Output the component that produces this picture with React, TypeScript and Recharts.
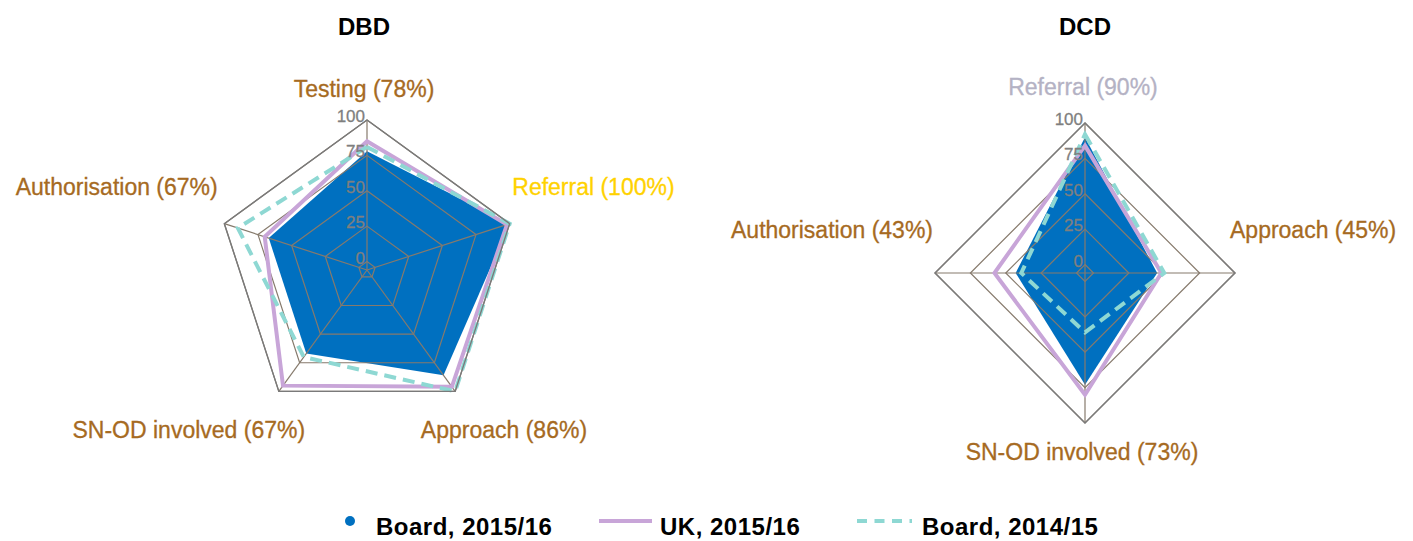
import React from "react";
import { RadarChart, Radar, PolarGrid, PolarAngleAxis, PolarRadiusAxis } from "recharts";

// DBD (pentagon) chart
const dbdAxes = ["Testing (78%)", "Referral (100%)", "Approach (86%)", "SN-OD involved (67%)", "Authorisation (67%)"];
const dbdBoard1516 = [78, 100, 86, 67, 67];
const dbdUk1516 = [85, 98, 96, 95, 70];
const dbdBoard1415 = [81, 100, 100, 70, 90];

// DCD (diamond) chart
const dcdAxes = ["Referral (90%)", "Approach (45%)", "SN-OD involved (73%)", "Authorisation (43%)"];
const dcdBoard1516 = [90, 45, 73, 43];
const dcdUk1516 = [84, 48, 80, 58];
const dcdBoard1415 = [92, 50, 36, 39];

const radiusTicks = [0, 25, 50, 75, 100];
const legendNames = ["Board, 2015/16", "UK, 2015/16", "Board, 2014/15"];

const FONT = "'Liberation Sans', Arial, sans-serif";
const BROWN = "#a66a22";
const BLUE = "#0070c0";
const PURPLE = "#c8a5d8";
const TEAL = "#8ed8d3";
const DOMAIN: [number, number] = [-6, 100];

const build = (axes: string[], a: number[], b: number[], c: number[]) =>
    axes.map((axis, i) => ({ axis, board1516: a[i], uk1516: b[i], board1415: c[i] }));

const dbdData = build(dbdAxes, dbdBoard1516, dbdUk1516, dbdBoard1415);
const dcdData = build(dcdAxes, dcdBoard1516, dcdUk1516, dcdBoard1415);

type Off = { dx: number; dy: number; anchor: "start" | "middle" | "end" };

const dbdLabelPos: Off[] = [
    { dx: -3, dy: -15, anchor: "middle" },
    { dx: -5, dy: -26, anchor: "start" },
    { dx: -39, dy: 40, anchor: "start" },
    { dx: 31, dy: 40, anchor: "end" },
    { dx: 1, dy: -26, anchor: "end" },
];
const dbdLabelColors = [BROWN, "#ffd200", BROWN, BROWN, BROWN];

const dcdLabelPos: Off[] = [
    { dx: -2, dy: -20, anchor: "middle" },
    { dx: -13, dy: -35, anchor: "start" },
    { dx: -3, dy: 29, anchor: "middle" },
    { dx: 6, dy: -35, anchor: "end" },
];
const dcdLabelColors = ["#b4b2c4", BROWN, BROWN, BROWN];

const angleTick = (pos: Off[], colors: string[]) => (props: any) => {
    const { x, y, payload, index } = props;
    const o = pos[index] || { dx: 0, dy: 0, anchor: "middle" };
    return (
        <text x={x + o.dx} y={y + o.dy} textAnchor={o.anchor} fill={colors[index]} fontSize={23} fontFamily={FONT}
            stroke={colors[index]} strokeWidth={0.3}>
            {payload.value}
        </text>
    );
};

const radiusTick = (props: any) => {
    const { x, y, payload } = props;
    return (
        <text x={x - 2} y={y + 2} textAnchor="end" fill="#7f7f7f" fontSize={17} fontFamily={FONT}
            stroke="#7f7f7f" strokeWidth={0.3}>
            {payload.value}
        </text>
    );
};

// the filled series sits in its own chart underneath so the grid shows through on top of it
function Spider({ data, cx, cy, width, pos, colors }: any) {
    const common = { width, height: 480, data, cx, cy, outerRadius: 150 };
    return (
        <div style={{ position: "relative", width, height: 480 }}>
            <div style={{ position: "absolute", left: 0, top: 0 }}>
                <RadarChart {...common}>
                    <PolarAngleAxis dataKey="axis" tick={false} axisLine={false} tickLine={false} />
                    <PolarRadiusAxis angle={90} domain={DOMAIN} ticks={radiusTicks} tick={false} axisLine={false} tickLine={false} />
                    <Radar dataKey="board1516" fill={BLUE} fillOpacity={1} stroke="none" isAnimationActive={false} />
                </RadarChart>
            </div>
            <div style={{ position: "absolute", left: 0, top: 0 }}>
                <RadarChart {...common}>
                    <PolarGrid gridType="polygon" stroke="#867a6c" strokeWidth={1.2} />
                    <PolarAngleAxis
                        dataKey="axis"
                        axisLineType="polygon"
                        axisLine={{ stroke: "#7a7a7a", strokeWidth: 1.4 }}
                        tickLine={false}
                        tick={angleTick(pos, colors)}
                    />
                    <PolarRadiusAxis angle={90} domain={DOMAIN} ticks={radiusTicks} axisLine={false} tickLine={false} tick={radiusTick} />
                    <Radar dataKey="uk1516" fill="none" fillOpacity={0} stroke={PURPLE} strokeWidth={4} isAnimationActive={false} />
                    <Radar dataKey="board1415" fill="none" fillOpacity={0} stroke={TEAL} strokeWidth={4} strokeDasharray="12 7" isAnimationActive={false} />
                </RadarChart>
            </div>
        </div>
    );
}

export default function App() {
    return (
        <div style={{ position: "fixed", left: 0, top: 0, width: 1413, height: 541, background: "#fff", overflow: "hidden" }}>
            <div style={{ position: "absolute", left: 0, top: 0 }}>
                <Spider data={dbdData} cx={367} cy={270} width={720} pos={dbdLabelPos} colors={dbdLabelColors} />
            </div>
            <div style={{ position: "absolute", left: 720, top: 0 }}>
                <Spider data={dcdData} cx={365} cy={273} width={693} pos={dcdLabelPos} colors={dcdLabelColors} />
            </div>
            <svg width={1413} height={541} style={{ position: "absolute", left: 0, top: 0, pointerEvents: "none" }}>
                <text x={364} y={35} textAnchor="middle" fontSize={24} fontWeight="bold" fontFamily={FONT} fill="#000">DBD</text>
                <text x={1085} y={35} textAnchor="middle" fontSize={24} fontWeight="bold" fontFamily={FONT} fill="#000">DCD</text>
                <g fontSize={24} fontWeight="bold" fontFamily={FONT} fill="#000" letterSpacing={0.5}>
                    <circle cx={350} cy={521} r={5} fill={BLUE} />
                    <text x={376} y={535}>{legendNames[0]}</text>
                    <line x1={599} y1={521} x2={652} y2={521} stroke={PURPLE} strokeWidth={4} />
                    <text x={660} y={535}>{legendNames[1]}</text>
                    <line x1={857} y1={521} x2={912} y2={521} stroke={TEAL} strokeWidth={4} strokeDasharray="10 7.5" />
                    <text x={922} y={535}>{legendNames[2]}</text>
                </g>
            </svg>
        </div>
    );
}
